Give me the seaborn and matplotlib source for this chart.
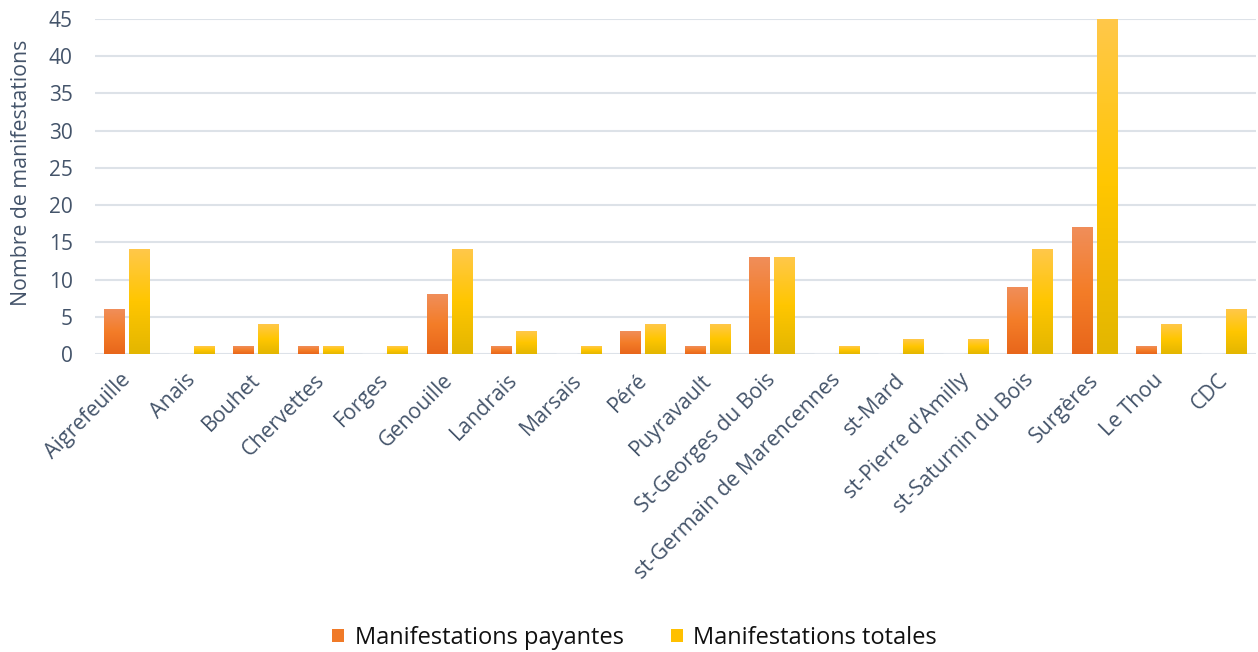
import numpy as np
import pandas as pd
import matplotlib
matplotlib.use("Agg")
import matplotlib.pyplot as plt
import matplotlib.transforms as mtransforms
from matplotlib.colors import LinearSegmentedColormap
from matplotlib.patches import Patch
import seaborn as sns

communes = ["Aigrefeuille", "Anais", "Bouhet", "Chervettes", "Forges", "Genouille",
            "Landrais", "Marsais", "Péré", "Puyravault", "St-Georges du Bois",
            "st-Germain de Marencennes", "st-Mard", "st-Pierre d'Amilly",
            "st-Saturnin du Bois", "Surgères", "Le Thou", "CDC"]
payantes = [6, 0, 1, 1, 0, 8, 1, 0, 3, 1, 13, 0, 0, 0, 9, 17, 1, 0]
totales = [14, 1, 4, 1, 1, 14, 3, 1, 4, 4, 13, 1, 2, 2, 14, 45, 4, 6]
series_names = ["Manifestations payantes", "Manifestations totales"]
yticks = [0, 5, 10, 15, 20, 25, 30, 35, 40, 45]

df = pd.DataFrame({
    "commune": communes * 2,
    "serie": [series_names[0]] * len(communes) + [series_names[1]] * len(communes),
    "valeur": payantes + totales,
})

sns.set_theme(style="white")
plt.rcParams["font.family"] = ["Open Sans", "DejaVu Sans"]

fig = plt.figure(figsize=(12.58, 6.52), dpi=100)
ax = fig.add_axes([95 / 1258, 1 - 354 / 652, 1161 / 1258, 335 / 652])

sns.barplot(data=df, x="commune", y="valeur", hue="serie", order=communes,
            hue_order=series_names, width=0.775, gap=0.16, ax=ax,
            palette=["#F07A28", "#FFC000"], legend=False, zorder=3)

cmaps = {
    0: LinearSegmentedColormap.from_list("o", ["#E8661B", "#F47D28", "#F08E5A"]),
    1: LinearSegmentedColormap.from_list("y", ["#E3B600", "#FFC600", "#FFC84A"]),
}
grad = np.linspace(0, 1, 256).reshape(-1, 1)
n = len(communes)
for i, p in enumerate(ax.patches):
    h = p.get_height()
    if h <= 0:
        continue
    s = i // n
    x0 = p.get_x()
    w = p.get_width()
    ax.imshow(grad, extent=[x0, x0 + w, 0, h], origin="lower", aspect="auto",
              cmap=cmaps[s], zorder=3)
    p.set_visible(False)

ax.set_xlim(-0.5, n - 0.5)
ax.set_ylim(0, 45)
ax.set_yticks(yticks)
ax.yaxis.grid(True, color="#DDE2E8", linewidth=1.5, zorder=0)
ax.set_axisbelow(True)
for sp in ax.spines.values():
    sp.set_visible(False)

tick_color = "#44546A"
ax.tick_params(axis="y", length=0, labelsize=15, labelcolor=tick_color, pad=16)
ax.tick_params(axis="x", length=0, labelsize=15.3, labelcolor=tick_color, pad=2)
ax.set_xticks(range(n))
ax.set_xticklabels(communes, rotation=45, ha="right", rotation_mode="anchor")
offset = mtransforms.ScaledTranslation(-7 / 100, -13 / 100, fig.dpi_scale_trans)
for lab in ax.get_xticklabels():
    lab.set_transform(lab.get_transform() + offset)
ax.set_xlabel("")
ax.set_ylabel("Nombre de manifestations", fontsize=15.3, color=tick_color)
ax.yaxis.set_label_coords((32 - 95) / 1161, (354 - 173) / 335)

handles = [Patch(facecolor="#F07A28", edgecolor="none"),
           Patch(facecolor="#FFC000", edgecolor="none")]
fig.legend(handles, series_names, loc="center", bbox_to_anchor=(634.5 / 1258, 1 - 638 / 652),
           ncol=2, frameon=False, fontsize=17, handlelength=0.5, handleheight=0.5,
           handletextpad=0.45, columnspacing=2.0, labelcolor="#111111")

fig.savefig("out.png", dpi=100)
